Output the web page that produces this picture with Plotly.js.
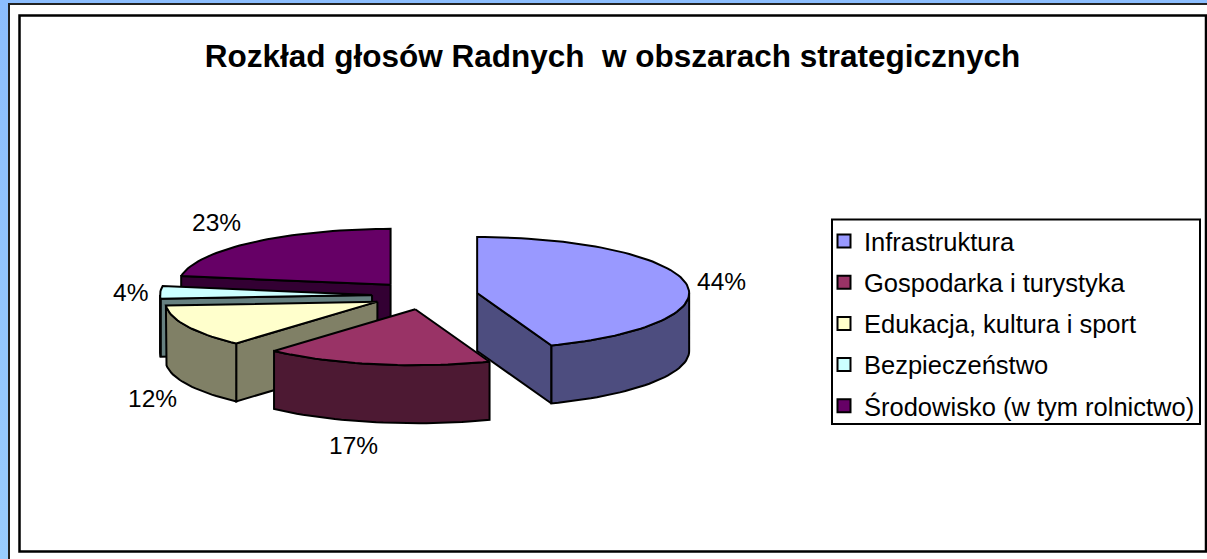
<!DOCTYPE html>
<html lang="pl">
<head>
<meta charset="utf-8">
<script src="https://cdn.plot.ly/plotly-3.0.1.min.js"></script>
<style>
html,body{margin:0;padding:0;width:1207px;height:559px;overflow:hidden;background:linear-gradient(#8cbeff,#99ccff);}
#chart{width:1207px;height:559px;}
</style>
</head>
<body>
<div id="chart"></div>
<script>
var titleText = 'Rozkład głosów Radnych \u00a0w obszarach strategicznych';
var categories = ['Infrastruktura','Gospodarka i turystyka','Edukacja, kultura i sport','Bezpieczeństwo','Środowisko (w tym rolnictwo)'];
var shares = [44.3,17.3,12.3,3.6,22.5];
var topColors = ['#9999FF','#993366','#FFFFCC','#CCFFFF','#660066'];
var wallColors = ['#4D4D7F','#4D1933','#808066','#668080','#330033'];

// label centres in page pixels, one per category
var labelX = [721,353,152,130,216];
var labelY = [281,445,398,292,222];

// projection of the exploded pie
var cx = 425, cy = 295.5, ra = 212, rb = 56, depth = 58, explode = 0.25;
var drawOrder = [4,0,3,2,1];
var ink = '#000';
var rad = function(d){return d*Math.PI/180;};

var total = shares.reduce(function(a,b){return a+b;},0);
var starts = [], acc = 0;
shares.forEach(function(v){starts.push(acc/total*360); acc += v;});

function pt(ox,oy,deg,dz){
  return [ox+ra*Math.sin(rad(deg)), oy-rb*Math.cos(rad(deg))+(dz||0)];
}
function arc(ox,oy,a0,a1,dz){
  var out = [], n = Math.max(2,Math.ceil(Math.abs(a1-a0)/2));
  for(var i=0;i<=n;i++){ out.push(pt(ox,oy,a0+(a1-a0)*i/n,dz)); }
  return out;
}
function poly(points,fill){
  var xs = points.map(function(p){return p[0];}), ys = points.map(function(p){return p[1];});
  xs.push(xs[0]); ys.push(ys[0]);
  return {type:'scatter',mode:'lines',x:xs,y:ys,fill:'toself',fillcolor:fill,
    line:{color:ink,width:2,shape:'linear'},hoverinfo:'skip',showlegend:false};
}

var traces = [];
drawOrder.forEach(function(i){
  var a0 = starts[i], a1 = a0+shares[i]/total*360, mid = (a0+a1)/2;
  var ox = cx+explode*ra*Math.sin(rad(mid)), oy = cy-explode*rb*Math.cos(rad(mid));
  var legendgroup = 'g'+i;
  var push = function(t){t.legendgroup = legendgroup; traces.push(t);};
  var radial = function(deg){
    var e = pt(ox,oy,deg);
    push(poly([[ox,oy],e,[e[0],e[1]+depth],[ox,oy+depth]],wallColors[i]));
  };
  if(a0>180 && a0<360) radial(a0);
  if(a1>0 && a1<180) radial(a1);
  var f0 = Math.max(a0,90), f1 = Math.min(a1,270);
  if(f1>f0){
    push(poly(arc(ox,oy,f0,f1,0).concat(arc(ox,oy,f1,f0,depth)),wallColors[i]));
  }
  push(poly([[ox,oy]].concat(arc(ox,oy,a0,a1,0)),topColors[i]));
});
categories.forEach(function(name,i){
  traces.push({type:'scatter',mode:'markers',x:[null],y:[null],name:name,legendgroup:'g'+i,
    marker:{symbol:'square',size:13,color:topColors[i],line:{color:ink,width:2}},hoverinfo:'skip'});
});

var annotations = categories.map(function(name,i){
  return {x:labelX[i],y:labelY[i],xref:'x',yref:'y',text:Math.round(shares[i])+'%',showarrow:false,
    xanchor:'center',yanchor:'middle',font:{family:'"Liberation Sans",Arial,sans-serif',size:24.5,color:'#000'}};
});

var layout = {
  width:1207,height:559,margin:{l:0,r:0,t:0,b:0,pad:0},
  paper_bgcolor:'rgba(0,0,0,0)',plot_bgcolor:'rgba(0,0,0,0)',
  font:{family:'"Liberation Sans",Arial,sans-serif',color:'#000'},
  title:{text:'<b>'+titleText+'</b>',x:612.5/1207,y:1-56/559,xanchor:'center',yanchor:'middle',
    font:{family:'"Liberation Sans",Arial,sans-serif',size:31.5,color:'#000'}},
  xaxis:{visible:false,range:[0,1207],fixedrange:true},
  yaxis:{visible:false,range:[559,0],fixedrange:true},
  shapes:[
    {type:'rect',layer:'below',xref:'x',yref:'y',x0:9,y0:4,x1:1215,y1:570,fillcolor:'#fff',line:{color:'#222',width:2}},
    {type:'rect',layer:'below',xref:'x',yref:'y',x0:19.5,y0:15.5,x1:1206,y1:551.5,fillcolor:'#fff',line:{color:'#000',width:2.5}},
    {type:'rect',layer:'below',xref:'x',yref:'y',x0:832,y0:219.5,x1:1200,y1:424,fillcolor:'#fff',line:{color:'#000',width:2}}
  ],
  showlegend:true,
  legend:{x:824/1207,y:1-218/559,xanchor:'left',yanchor:'top',bgcolor:'rgba(0,0,0,0)',borderwidth:0,
    tracegroupgap:5,font:{family:'"Liberation Sans",Arial,sans-serif',size:25.5,color:'#000'},itemclick:false,itemdoubleclick:false},
  annotations:annotations
};
Plotly.newPlot('chart',traces,layout,{displayModeBar:false});
</script>
</body>
</html>
